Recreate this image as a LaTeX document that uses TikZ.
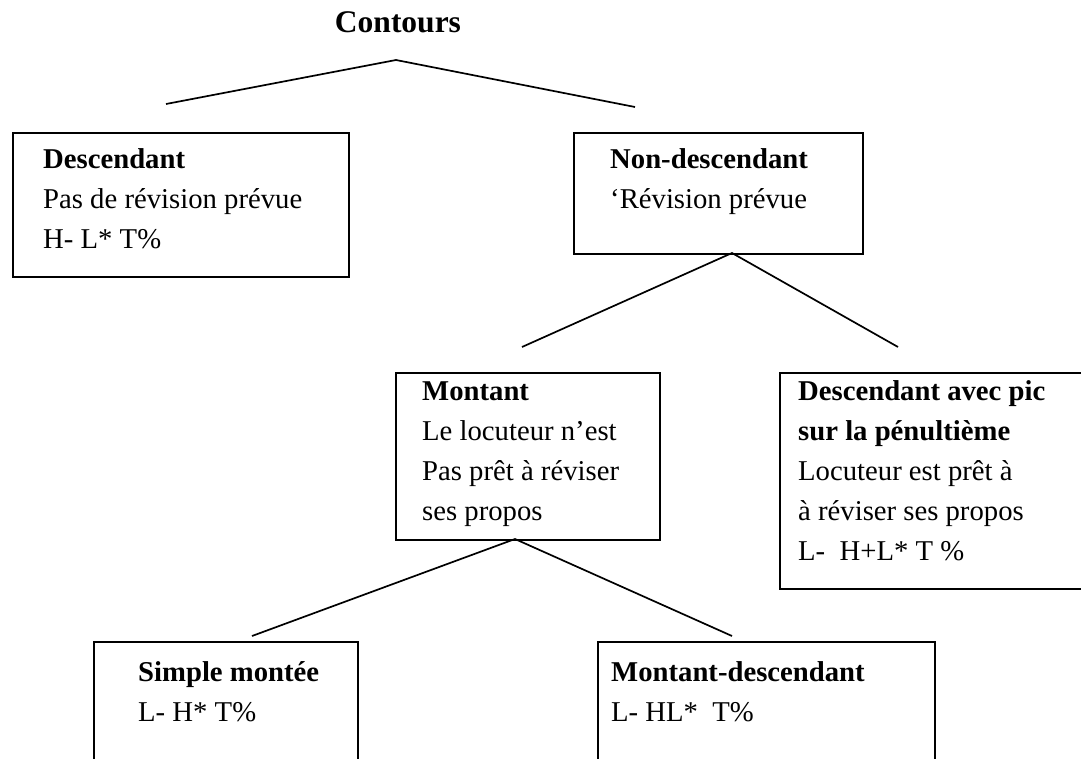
\documentclass[tikz,border=0pt]{standalone}
\usepackage{fontspec}
\setmainfont{Liberation Serif}
\newcommand\fl{\rule{0pt}{22pt}}
\tikzset{
  box/.style={draw, line width=1.8pt, inner sep=0pt, anchor=north west},
  txt/.style={anchor=north west, inner sep=0pt, align=left, font=\fontsize{28.7}{40}\selectfont},
  branch/.style={line width=1.7pt},
  rootlabel/.style={anchor=base, inner sep=0pt, font=\fontsize{31.5}{38}\selectfont\bfseries}
}
\begin{document}
\begin{tikzpicture}[x=1pt,y=-1pt]
\clip (0,0) rectangle (1081,758);
\fill[white] (0,0) rectangle (1081,758);

% title
\node[rootlabel] (root) at (398,32) {Contours};

% boxes
\node[box, minimum width=336pt, minimum height=144pt] (desc) at (12,132) {};
\node[box, minimum width=289pt, minimum height=121pt] (nondesc) at (573,132) {};
\node[box, minimum width=264pt, minimum height=167pt] (mont) at (395,372) {};
\node[box, minimum width=321pt, minimum height=216pt] (pic) at (779,372) {};
\node[box, minimum width=264pt, minimum height=150pt] (simple) at (93,641) {};
\node[box, minimum width=337pt, minimum height=150pt] (montdesc) at (597,641) {};

% texts
\node[txt] (desct) at (43,146) {\fl\textbf{Descendant}\\Pas de révision prévue\\H- L* T\%};
\node[txt] (nondesct) at (610,146) {\fl\textbf{Non-descendant}\\‘Révision prévue};
\node[txt] (montt) at (422,378) {\fl\textbf{Montant}\\Le locuteur n’est\\Pas prêt à réviser\\ses propos};
\node[txt] (pict) at (798,378) {\fl\textbf{Descendant avec pic}\\\textbf{sur la pénultième}\\Locuteur est prêt à\\à réviser ses propos\\L-\ \ H+L* T \%};
\node[txt] (simplet) at (138,659) {\fl\textbf{Simple montée}\\L- H* T\%};
\node[txt] (montdesct) at (611,659) {\fl\textbf{Montant-descendant}\\L- HL*\ \ T\%};

% branch points
\coordinate (rootfork) at (396,60);
\coordinate (toDesc) at (166,104);
\coordinate (toNondesc) at (635,107);
\coordinate (ndfork) at (732,253);
\coordinate (toMont) at (522,347);
\coordinate (toPic) at (898,347);
\coordinate (mfork) at (515,539);
\coordinate (toSimple) at (252,636);
\coordinate (toMontdesc) at (732,636);

\draw[branch] (toDesc) -- (rootfork) -- (toNondesc);
\draw[branch] (toMont) -- (ndfork) -- (toPic);
\draw[branch] (toSimple) -- (mfork) -- (toMontdesc);
\end{tikzpicture}
\end{document}
